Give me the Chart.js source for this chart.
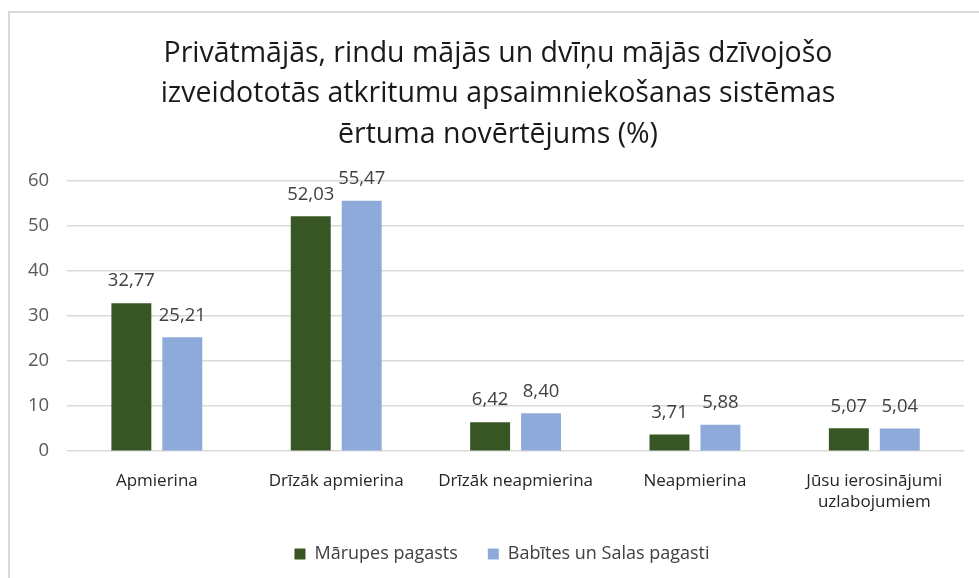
<!DOCTYPE html>
<html>
<head>
<meta charset="utf-8">
<script src="https://cdn.jsdelivr.net/npm/chart.js@4/dist/chart.umd.min.js"></script>
<style>
  html, body { margin:0; padding:0; background:#fff; }
  #wrap { width:979px; height:578px; position:relative; }
</style>
</head>
<body>
<div id="wrap"><canvas id="chart" width="979" height="578"></canvas></div>
<script>
// dati
const categories = ["Apmierina", "Drīzāk apmierina", "Drīzāk neapmierina", "Neapmierina", ["Jūsu ierosinājumi", "uzlabojumiem"]];
const marupe = [32.77, 52.03, 6.42, 3.71, 5.07];
const babite = [25.21, 55.47, 8.40, 5.88, 5.04];
const titleLines = ["Privātmājās, rindu mājās un dvīņu mājās dzīvojošo", "izveidototās atkritumu apsaimniekošanas sistēmas", "ērtuma novērtējums (%)"];

const FONT = "'Open Sans', Lato, sans-serif";

// rāmis ap diagrammu
const frame = {
    id: "frame",
    beforeDraw(chart) {
        const c = chart.ctx;
        c.save();
        c.strokeStyle = "#d9d9d9";
        c.lineWidth = 2;
        c.beginPath();
        c.moveTo(9, 578);
        c.lineTo(9, 12);
        c.lineTo(979, 12);
        c.stroke();
        c.restore();
    }
};

// virsraksts un leģenda nedaudz pa labi
const boxShift = {
    id: "boxShift",
    afterLayout(chart) {
        chart.legend.left += 15;
        chart.legend.right += 15;
        chart.titleBlock.left += 11;
        chart.titleBlock.right += 11;
    }
};

// vērtības virs stabiņiem
const valueLabels = {
    id: "valueLabels",
    afterDatasetsDraw(chart) {
        const c = chart.ctx;
        c.save();
        c.font = "18.5px " + FONT;
        c.fillStyle = "#404040";
        c.textAlign = "center";
        c.textBaseline = "middle";
        chart.data.datasets.forEach((ds, i) => {
            chart.getDatasetMeta(i).data.forEach((bar, j) => {
                const txt = ds.data[j].toFixed(2).replace(".", ",");
                c.fillText(txt, bar.x, bar.y - 22);
            });
        });
        c.restore();
    }
};

new Chart(document.getElementById("chart"), {
    type: "bar",
    data: {
        labels: categories,
        datasets: [
            { label: "Mārupes pagasts", data: marupe, backgroundColor: "#375623",
              categoryPercentage: 0.568, barPercentage: 0.784 },
            { label: "Babītes un Salas pagasti", data: babite, backgroundColor: "#8eaadb",
              categoryPercentage: 0.568, barPercentage: 0.784 }
        ]
    },
    options: {
        responsive: false,
        animation: false,
        layout: { padding: { left: 10, right: 15, top: 25, bottom: 5 } },
        plugins: {
            title: {
                display: true,
                text: titleLines,
                color: "#1a1a1a",
                font: { family: FONT, size: 28.5, weight: "normal", lineHeight: 1.43 },
                padding: { top: 8, bottom: 25 }
            },
            legend: {
                position: "bottom",
                labels: {
                    color: "#404040",
                    font: { family: FONT, size: 18 },
                    boxWidth: 11,
                    boxHeight: 11,
                    padding: 30
                }
            },
            tooltip: { enabled: false }
        },
        scales: {
            x: {
                grid: { display: false },
                border: { display: false },
                ticks: { color: "#262626", font: { family: FONT, size: 17 }, padding: 12, maxRotation: 0 },
                afterFit(scale) { scale.height -= 9; }
            },
            y: {
                min: 0,
                max: 60,
                border: { display: false },
                grid: { color: "#d9d9d9", lineWidth: 1.5, drawTicks: false },
                ticks: { stepSize: 10, color: "#595959", font: { family: FONT, size: 18.5 }, padding: 18 }
            }
        }
    },
    plugins: [frame, boxShift, valueLabels]
});
</script>
</body>
</html>
